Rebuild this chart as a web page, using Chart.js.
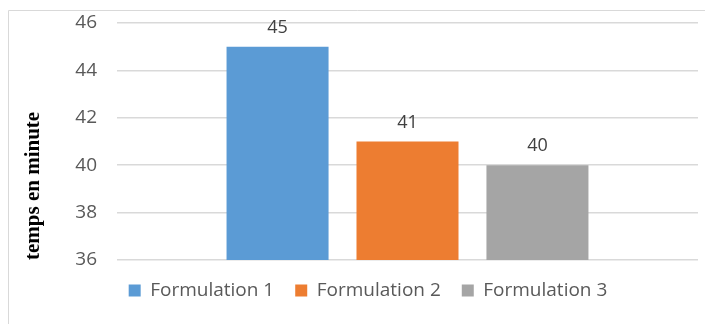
<!DOCTYPE html>
<html>
<head>
<meta charset="utf-8">
<script src="https://cdn.jsdelivr.net/npm/chart.js@4/dist/chart.umd.min.js"></script>
<style>
  html, body { margin: 0; padding: 0; background: #fff; overflow: hidden; }
  #wrap { width: 705px; height: 324px; position: relative; }
</style>
</head>
<body>
<div id="wrap"><canvas id="c" width="705" height="324"></canvas></div>
<script>
// Temps par formulation
const categories = [""];
const seriesNames = ["Formulation 1", "Formulation 2", "Formulation 3"];
const seriesValues = [[45], [41], [40]];
const seriesColors = ["#5B9BD5", "#ED7D31", "#A5A5A5"];
const yTicks = [36, 38, 40, 42, 44, 46];

const FONT = "'Open Sans', 'DejaVu Sans', sans-serif";
const SERIF = "'Liberation Serif', 'Times New Roman', serif";

// Light frame around the chart
const framePlugin = {
  id: 'frame',
  beforeDraw(chart) {
    const ctx = chart.ctx;
    ctx.save();
    ctx.strokeStyle = '#d9d9d9';
    ctx.lineWidth = 1;
    ctx.beginPath();
    ctx.moveTo(8.5, chart.height + 5);
    ctx.lineTo(8.5, 10.5);
    ctx.lineTo(chart.width + 5, 10.5);
    ctx.stroke();
    ctx.restore();
  }
};

// Value labels above each bar
const valueLabels = {
  id: 'valueLabels',
  afterDatasetsDraw(chart) {
    const ctx = chart.ctx;
    ctx.save();
    ctx.font = "18px " + FONT;
    ctx.fillStyle = '#404040';
    ctx.textAlign = 'center';
    ctx.textBaseline = 'bottom';
    chart.data.datasets.forEach((ds, i) => {
      const meta = chart.getDatasetMeta(i);
      meta.data.forEach((bar, j) => {
        ctx.fillText(String(ds.data[j]), bar.x, bar.y - 10);
      });
    });
    ctx.restore();
  }
};

function draw() {
  new Chart(document.getElementById('c'), {
    type: 'bar',
    data: {
      labels: categories,
      datasets: seriesNames.map((name, i) => ({
        label: name,
        data: seriesValues[i],
        backgroundColor: seriesColors[i],
        borderWidth: 0,
        categoryPercentage: 0.671,
        barPercentage: 0.785
      }))
    },
    options: {
      responsive: false,
      animation: false,
      devicePixelRatio: 1,
      layout: { padding: { left: 38, right: 7, top: 23, bottom: 27 } },
      plugins: {
        legend: {
          position: 'bottom',
          maxHeight: 37,
          labels: {
            boxWidth: 12,
            boxHeight: 12,
            padding: 21,
            color: '#595959',
            font: { family: FONT, size: 19 }
          }
        },
        tooltip: { enabled: false }
      },
      scales: {
        x: {
          display: false
        },
        y: {
          min: yTicks[0],
          max: yTicks[yTicks.length - 1],
          afterBuildTicks(scale) {
            scale.ticks = yTicks.map(v => ({ value: v }));
          },
          afterFit(scale) { scale.width = 79; },
          ticks: {
            padding: 4,
            color: '#595959',
            font: { family: FONT, size: 19, lineHeight: 1 }
          },
          grid: {
            color: '#d9d9d9',
            lineWidth: 1.5,
            drawTicks: true,
            tickLength: 16,
            tickColor: 'rgba(0,0,0,0)'
          },
          border: { display: false },
          title: {
            display: true,
            text: 'temps en minute',
            align: 'start',
            color: '#000',
            font: { family: SERIF, size: 21, weight: 'bold' },
            padding: { top: -17, bottom: 0 }
          }
        }
      }
    },
    plugins: [framePlugin, valueLabels]
  });
}

Promise.all([
  document.fonts.load("19px 'Open Sans'"),
  document.fonts.load("bold 21px 'Liberation Serif'")
]).then(draw, draw);
</script>
</body>
</html>
